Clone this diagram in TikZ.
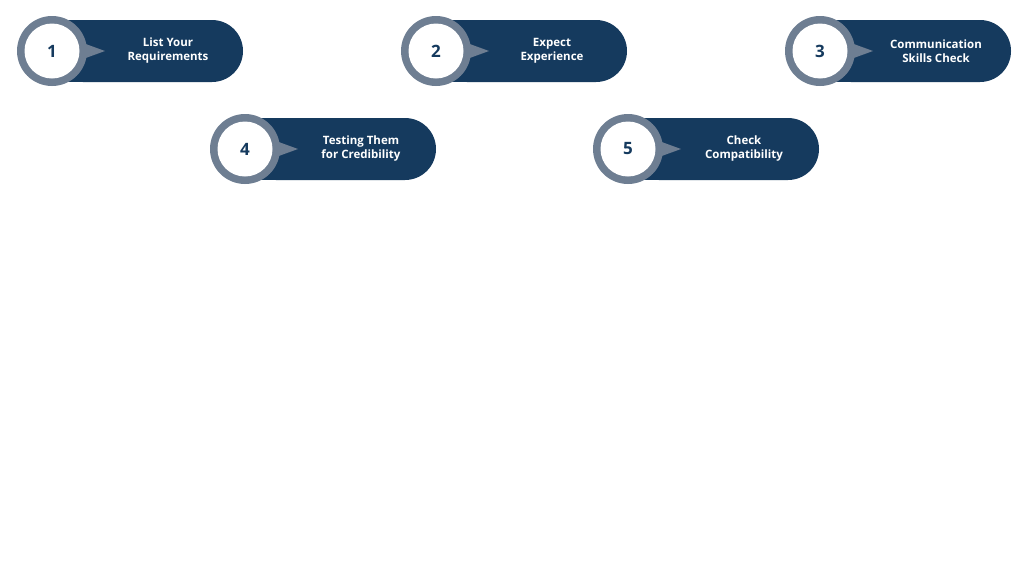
\documentclass[tikz,border=0pt]{standalone}
\usepackage{fontspec}
\setmainfont{Open Sans}
\definecolor{navy}{HTML}{153A5E}
\definecolor{ring}{HTML}{6E7E92}
\tikzset{
  lbl/.style={text=white,font=\bfseries\fontsize{11.5}{14}\selectfont,align=center},
  num/.style={text=navy,font=\bfseries\fontsize{17}{20}\selectfont}
}
\newcommand{\badge}[4]{%
  \fill[navy,rounded corners=31pt] (#1,#2+31) -- (#1+191,#2+31) -- (#1+191,#2-31) -- (#1,#2-31) -- cycle;
  \fill[navy] (#1,#2+31) rectangle (#1+40,#2-31);
  \fill[ring] (#1,#2) circle (35);
  \fill[ring] (#1+20,#2+12) -- (#1+53,#2) -- (#1+20,#2-12) -- cycle;
  \fill[white] (#1,#2) circle (27.5);
  \node[num] (n#3) at (#1,#2) {#3};
  \node[lbl] (t#3) at (#1+116,#2) {#4};
}
\begin{document}
\begin{tikzpicture}[x=1pt,y=-1pt]
\useasboundingbox[fill=white] (0,0) rectangle (1024,576);
\badge{52}{51}{1}{List Your\\Requirements}
\badge{436}{51}{2}{Expect\\Experience}
\badge{820}{51}{3}{Communication\\Skills Check}
\badge{245}{149}{4}{Testing Them\\for Credibility}
\badge{628}{149}{5}{Check\\Compatibility}
\end{tikzpicture}
\end{document}
